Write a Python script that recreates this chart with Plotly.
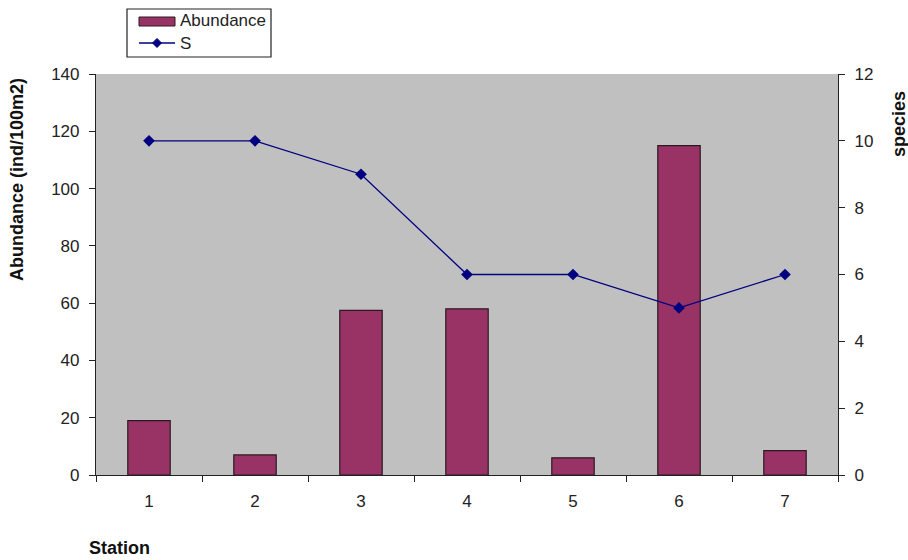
import plotly.graph_objects as go

# Station survey results
stations = ["1", "2", "3", "4", "5", "6", "7"]
abundance = [19, 7, 57.5, 58, 6, 115, 8.5]   # ind/100m2
species = [10, 10, 9, 6, 6, 5, 6]            # species richness S

W, H = 908, 560
L, R, T, B = 96, 70, 74, 85
PW, PH = W - L - R, H - T - B
font_family = "Liberation Sans, Arial, sans-serif"

BAR_COLOR = "#993366"
LINE_COLOR = "#000080"
EDGE = "#222"


def px(x):
    """Pixel column -> paper x."""
    return (x - L) / PW


def py(y):
    """Pixel row -> paper y."""
    return (H - B - y) / PH


fig = go.Figure()

fig.add_trace(go.Bar(
    x=stations, y=abundance, name="Abundance",
    marker=dict(color=BAR_COLOR, line=dict(color="#2a1a20", width=1.2)),
    width=0.4, yaxis="y",
))

fig.add_trace(go.Scatter(
    x=stations, y=species, name="S", mode="lines+markers",
    line=dict(color=LINE_COLOR, width=1.3),
    marker=dict(symbol="diamond", size=9, color=LINE_COLOR),
    yaxis="y2",
))

axis_common = dict(
    showline=True, linecolor=EDGE, linewidth=1.2,
    ticks="outside", tickcolor=EDGE, ticklen=6, tickwidth=1.2,
    showgrid=False, zeroline=False,
    tickfont=dict(family=font_family, size=17, color="#222"),
)

fig.update_layout(
    width=W, height=H,
    margin=dict(l=L, r=R, t=T, b=B),
    paper_bgcolor="white",
    plot_bgcolor="#c0c0c0",
    showlegend=False,
    xaxis=dict(
        **axis_common,
        type="category", range=[-0.5, 6.5],
        tickson="boundaries",
        ticklabelstandoff=10,
    ),
    yaxis=dict(
        **axis_common,
        range=[0, 140], dtick=20,
        ticklabelstandoff=6,
    ),
    yaxis2=dict(
        **axis_common,
        range=[0, 12], dtick=2,
        overlaying="y", side="right",
        ticklabelstandoff=6,
    ),
    font=dict(family=font_family),
)

# Legend box with its two entries
dx = 4.5 / PW
dy = 4.5 / PH
cx, cy = px(157), py(43)
diamond = (f"M {cx} {cy + dy} L {cx + dx} {cy} L {cx} {cy - dy} "
           f"L {cx - dx} {cy} Z")
shapes = [
    dict(type="rect", xref="paper", yref="paper",
         x0=px(127), x1=px(271), y0=py(57), y1=py(9),
         fillcolor="white", line=dict(color=EDGE, width=1.2)),
    dict(type="rect", xref="paper", yref="paper",
         x0=px(139), x1=px(175), y0=py(26), y1=py(17),
         fillcolor=BAR_COLOR, line=dict(color="#2a1a20", width=1)),
    dict(type="line", xref="paper", yref="paper",
         x0=px(139), x1=px(175), y0=py(43), y1=py(43),
         line=dict(color=LINE_COLOR, width=1.3)),
    dict(type="path", xref="paper", yref="paper", path=diamond,
         fillcolor=LINE_COLOR, line=dict(color=LINE_COLOR, width=1)),
]
fig.update_layout(shapes=shapes)

legend_font = dict(family=font_family, size=17, color="#222")
for label, yy in (("Abundance", 21), ("S", 43)):
    fig.add_annotation(
        text=label, xref="paper", yref="paper",
        x=px(178), y=py(yy), xanchor="left", yanchor="middle",
        showarrow=False, font=legend_font,
    )

# Axis titles
title_font = dict(family=font_family, size=18, color="#111")
fig.add_annotation(
    text="<b>Abundance (ind/100m2)</b>", textangle=-90,
    xref="paper", yref="paper", x=px(17), y=py(180),
    xanchor="center", yanchor="middle", showarrow=False, font=title_font,
)
fig.add_annotation(
    text="<b>species</b>", textangle=-90,
    xref="paper", yref="paper", x=px(899), y=py(124),
    xanchor="center", yanchor="middle", showarrow=False, font=title_font,
)
fig.add_annotation(
    text="<b>Station</b>",
    xref="paper", yref="paper", x=px(87), y=py(548),
    xanchor="left", yanchor="middle", showarrow=False, font=title_font,
)

fig.write_html("out.html")
